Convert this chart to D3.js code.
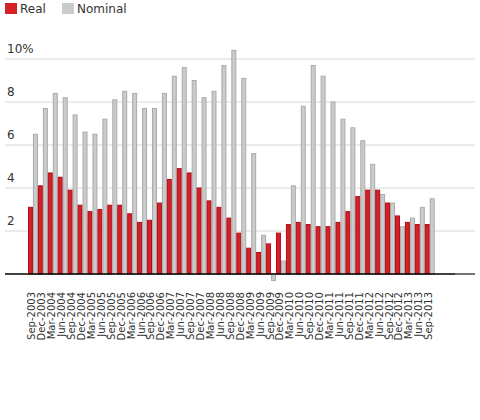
<!DOCTYPE html>
<html>
<head>
<meta charset="utf-8">
<script src="https://cdn.jsdelivr.net/npm/d3@7"></script>
<style>
  body { margin: 0; background: #fff; }
  text { font-family: "DejaVu Sans", sans-serif; fill: #333; }
</style>
</head>
<body>
<svg id="chart" width="480" height="420"></svg>
<script>
var quarters = [
  "Sep-2003","Dec-2003","Mar-2004","Jun-2004","Sep-2004","Dec-2004","Mar-2005","Jun-2005",
  "Sep-2005","Dec-2005","Mar-2006","Jun-2006","Sep-2006","Dec-2006","Mar-2007","Jun-2007",
  "Sep-2007","Dec-2007","Mar-2008","Jun-2008","Sep-2008","Dec-2008","Mar-2009","Jun-2009",
  "Sep-2009","Dec-2009","Mar-2010","Jun-2010","Sep-2010","Dec-2010","Mar-2011","Jun-2011",
  "Sep-2011","Dec-2011","Mar-2012","Jun-2012","Sep-2012","Dec-2012","Mar-2013","Jun-2013",
  "Sep-2013"
];
var real = [
  3.1, 4.1, 4.7, 4.5, 3.9, 3.2, 2.9, 3.0, 3.2, 3.2, 2.8, 2.4, 2.5, 3.3, 4.4, 4.9,
  4.7, 4.0, 3.4, 3.1, 2.6, 1.9, 1.2, 1.0, 1.4, 1.9, 2.3, 2.4, 2.3, 2.2, 2.2, 2.4,
  2.9, 3.6, 3.9, 3.9, 3.3, 2.7, 2.4, 2.3, 2.3
];
var nominal = [
  6.5, 7.7, 8.4, 8.2, 7.4, 6.6, 6.5, 7.2, 8.1, 8.5, 8.4, 7.7, 7.7, 8.4, 9.2, 9.6,
  9.0, 8.2, 8.5, 9.7, 10.4, 9.1, 5.6, 1.8, -0.3, 0.6, 4.1, 7.8, 9.7, 9.2, 8.0, 7.2,
  6.8, 6.2, 5.1, 3.7, 3.3, 2.2, 2.6, 3.1, 3.5
];
var series = ["Real", "Nominal"];
var yTicks = [2, 4, 6, 8, 10];
var yTickLabels = ["2", "4", "6", "8", "10%"];

var colors = { Real: "#d42027", Nominal: "#cbcbcb" };
var strokes = { Real: "#b00d18", Nominal: "#aaaaaa" };

var svg = d3.select("#chart");

var x0 = d3.scaleBand().domain(quarters).range([28, 434.7]);
var x1 = d3.scaleBand().domain(series).range([0, x0.bandwidth()]);
var y = d3.scaleLinear().domain([0, 10]).range([274, 59]);

// gridlines
svg.append("g").selectAll("line")
  .data(yTicks)
  .enter().append("line")
  .attr("x1", 5).attr("x2", 475)
  .attr("y1", function(d) { return y(d); })
  .attr("y2", function(d) { return y(d); })
  .attr("stroke", "#d8d8d8")
  .attr("stroke-width", 1);

svg.append("g").selectAll("text")
  .data(yTicks)
  .enter().append("text")
  .attr("x", 7)
  .attr("y", function(d) { return y(d) - 6; })
  .style("font-size", "12px")
  .text(function(d, i) { return yTickLabels[i]; });

// bars
var rows = quarters.map(function(q, i) {
  return { q: q, values: [{ key: "Real", v: real[i] }, { key: "Nominal", v: nominal[i] }] };
});

svg.append("g").selectAll("g")
  .data(rows)
  .enter().append("g")
  .attr("transform", function(d) { return "translate(" + x0(d.q) + ",0)"; })
  .selectAll("rect")
  .data(function(d) { return d.values; })
  .enter().append("rect")
  .attr("x", function(d) { return x1(d.key) + 0.5; })
  .attr("width", x1.bandwidth() - 1)
  .attr("y", function(d) { return y(Math.max(0, d.v)); })
  .attr("height", function(d) { return Math.abs(y(d.v) - y(0)); })
  .attr("fill", function(d) { return colors[d.key]; })
  .attr("stroke", function(d) { return strokes[d.key]; })
  .attr("stroke-width", 1);

// baseline
svg.append("line")
  .attr("x1", 455).attr("x2", 475)
  .attr("y1", y(0)).attr("y2", y(0))
  .attr("stroke", "#444").attr("stroke-width", 1.5);
svg.append("line")
  .attr("x1", 5).attr("x2", 455)
  .attr("y1", y(0)).attr("y2", y(0))
  .attr("stroke", "#000").attr("stroke-width", 1.5);

// x labels
svg.append("g").selectAll("text")
  .data(quarters)
  .enter().append("text")
  .attr("transform", function(d) {
    return "translate(" + (x0(d) + x0.bandwidth() / 2 - 1) + ",292)rotate(-90)";
  })
  .attr("text-anchor", "end")
  .attr("dy", "0.35em")
  .style("font-size", "10px")
  .text(function(d) { return d; });

// legend
var legend = svg.append("g").selectAll("g")
  .data(series)
  .enter().append("g")
  .attr("transform", function(d, i) { return "translate(" + (i === 0 ? 5 : 62) + ",3)"; });
legend.append("rect")
  .attr("width", 12).attr("height", 11)
  .attr("fill", function(d) { return colors[d]; });
legend.append("text")
  .attr("x", 15).attr("y", 10)
  .style("font-size", "12px")
  .text(function(d) { return d; });
</script>
</body>
</html>
